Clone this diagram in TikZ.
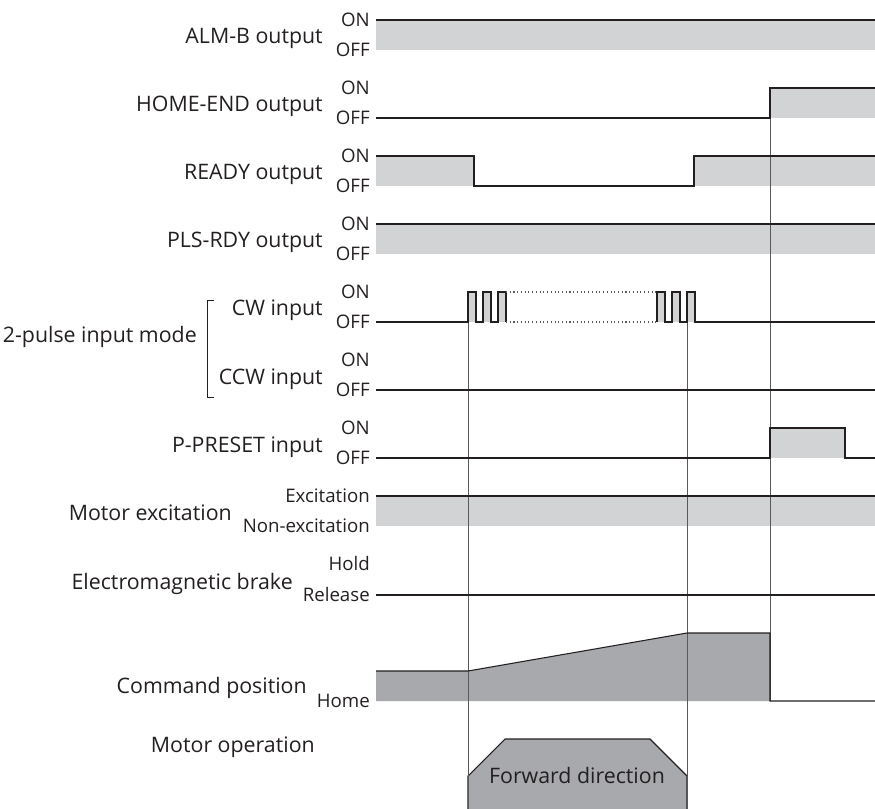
\documentclass[tikz,border=0pt]{standalone}
\usepackage{fontspec}
\setmainfont{Open Sans}
\definecolor{ink}{HTML}{231F20}
\definecolor{lgray}{HTML}{D1D3D4}
\definecolor{dgray}{HTML}{A7A9AC}
\definecolor{vgray}{HTML}{58595B}
\begin{document}
\begin{tikzpicture}[x=0.75pt,y=-0.75pt,
  lab/.style={anchor=base east, inner sep=0pt, text=ink, font=\fontsize{16}{19}\selectfont},
  sml/.style={anchor=base east, inner sep=0pt, text=ink, font=\fontsize{14}{16}\selectfont},
  sig/.style={draw=ink, line width=0.8pt, line join=miter},
  vl/.style={draw=vgray, line width=0.6pt},
  dots/.style={draw=vgray, line width=0.8pt, dotted}]
\useasboundingbox (0,0) rectangle (875,809);
% fills
\fill[lgray] (376,20) rectangle (875,50);
\fill[lgray] (770,88) rectangle (875,118);
\fill[lgray] (376,156) rectangle (474,186);
\fill[lgray] (694,156) rectangle (875,186);
\fill[lgray] (376,224) rectangle (875,254);
\foreach \a in {468,483,498,657,672,687} \fill[lgray] (\a,292) rectangle ++(8,30);
\fill[lgray] (770,428) rectangle (845,458);
\fill[lgray] (376,496) rectangle (875,526);
\fill[dgray] (376,671) -- (468,671) -- (687,633) -- (770,633) -- (770,701) -- (376,701) -- cycle;
\draw[sig, fill=dgray] (468,809) -- (468,776) -- (505,739) -- (650,739) -- (687,776) -- (687,809);
% vertical lines
\draw[vl] (468,292) -- (468,809);
\draw[vl] (687,292) -- (687,809);
\draw[vl] (770,88) -- (770,701);
% signals
\draw[sig] (376,20) -- (875,20);
\draw[sig] (376,118) -- (770,118) -- (770,88) -- (875,88);
\draw[sig] (376,156) -- (474,156) -- (474,186) -- (694,186) -- (694,156) -- (875,156);
\draw[sig] (376,224) -- (875,224);
\draw[sig] (376,322) -- (468,322) -- (468,292) -- (476,292) -- (476,322) -- (483,322) -- (483,292) -- (491,292) -- (491,322) -- (498,322) -- (498,292) -- (506,292) -- (506,322);
\draw[dots] (506,292) -- (657,292);
\draw[dots] (506,322) -- (657,322);
\draw[sig] (657,322) -- (657,292) -- (665,292) -- (665,322) -- (672,322) -- (672,292) -- (680,292) -- (680,322) -- (687,322) -- (687,292) -- (695,292) -- (695,322) -- (875,322);
\draw[sig] (376,390) -- (875,390);
\draw[sig] (376,458) -- (770,458) -- (770,428) -- (845,428) -- (845,458) -- (875,458);
\draw[sig] (376,496) -- (875,496);
\draw[sig] (376,595) -- (875,595);
\draw[sig] (376,671) -- (468,671) -- (687,633) -- (770,633) -- (770,701) -- (875,701);
% bracket
\draw[sig, line width=0.6pt] (214,300) -- (207,300) -- (207,397) -- (214,397);
% labels
\node[lab] (l1) at (323,44) {ALM-B output};
\node[lab] (l2) at (323,112) {HOME-END output};
\node[lab] (l3) at (323,180) {READY output};
\node[lab] (l4) at (323,248) {PLS-RDY output};
\node[lab] (l5) at (323,316) {CW input};
\node[lab] (l6) at (323,384) {CCW input};
\node[lab] (l56) at (197,343) {2-pulse input mode};
\node[lab] (l7) at (323,452) {P-PRESET input};
\node[lab] (l8) at (232,520) {Motor excitation};
\node[lab] (l9) at (293,589) {Electromagnetic brake};
\node[lab] (l10) at (307,693) {Command position};
\node[lab] (l11) at (315,752) {Motor operation};
\node[lab, anchor=base] (fwd) at (577,783) {Forward direction};
% small labels
\foreach \on/\nm in {20/a,88/b,156/c,224/d,292/e,360/f,428/g}{
  \node[sml] (on\nm) at (370,\on+6.5) {ON};
  \node[sml] (off\nm) at (370,\on+36.5) {OFF};
}
\node[sml] (exc) at (370,502.5) {Excitation};
\node[sml] (nexc) at (370,532.5) {Non-excitation};
\node[sml] (hold) at (370,570.5) {Hold};
\node[sml] (rel) at (370,601.5) {Release};
\node[sml] (home) at (370,707.5) {Home};
\end{tikzpicture}
\end{document}
